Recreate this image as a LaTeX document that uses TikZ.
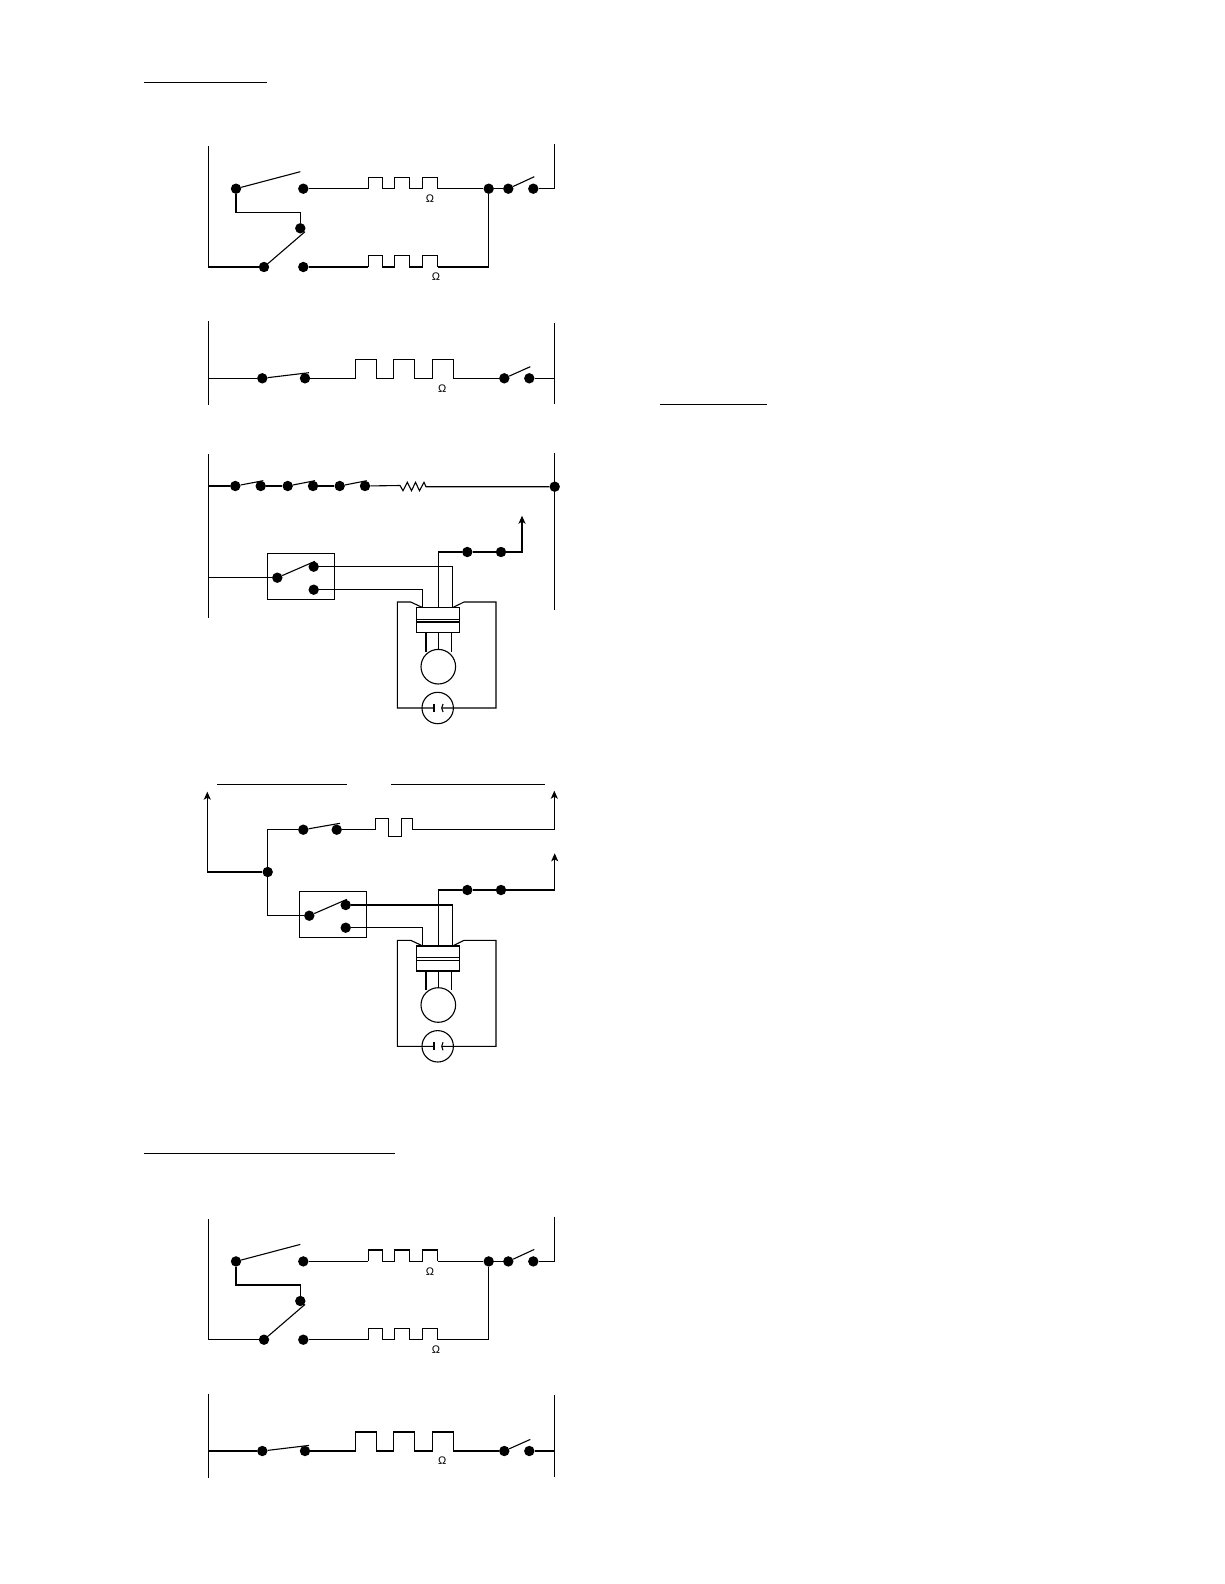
\documentclass[tikz,border=0pt]{standalone}
\usepackage{fontspec}
\setmainfont{Liberation Sans}
\usetikzlibrary{arrows.meta}
\tikzset{
  wire/.style={line width=1.1pt, line join=miter},
  term/.style={circle, fill, inner sep=0pt, minimum size=10.4pt},
  omegalabel/.style={font=\fontsize{11}{12}\selectfont, inner sep=0pt},
  tipped/.style={wire, -{Stealth[length=8pt,width=7pt,inset=2pt]}},
}
% the heater with three humps, low level at y=#1
\newcommand{\heaterlow}[1]{
\draw[wire] (368.3,#1) -- ++(0,-11.4) -| (382.3,#1) -- (394.3,#1) -- ++(0,-11.4) -| (409.7,#1) -- (422.3,#1) -- ++(0,-11.4) -| (437.7,#1);
}
\begin{document}
\begin{tikzpicture}[x=1pt,y=-1pt]
\useasboundingbox (0,0) rectangle (1224,1584);
\coordinate (headA1) at (144,82.3);
\coordinate (headA2) at (266.7,82.3);
\draw[wire] (headA1) -- (headA2);
\coordinate (headB1) at (660,404.3);
\coordinate (headB2) at (767,404.3);
\draw[wire] (headB1) -- (headB2);
\coordinate (headC1) at (144,1153.3);
\coordinate (headC2) at (395,1153.3);
\draw[wire] (headC1) -- (headC2);

% the two rung groups, drawn the same way
\foreach \oy/\id in {0/p,1072.7/q}{
\begin{scope}[shift={(0,\oy)}]
\coordinate (railL\id) at (208.3,146);
\coordinate (railLb\id) at (208.3,267);
\coordinate (railR\id) at (554.3,144);
\coordinate (railRb\id) at (554.3,188.7);
\node[term] (a\id) at (236,188.7){};
\node[term] (b\id) at (303.3,188.7){};
\node[term] (c\id) at (300.3,228.3){};
\node[term] (d\id) at (264,267){};
\node[term] (e\id) at (303.3,267){};
\node[term] (f\id) at (488.7,188.7){};
\node[term] (g\id) at (508.3,188.7){};
\node[term] (h\id) at (533.3,188.7){};
\coordinate (ab\id) at (300.3,171.7);
\coordinate (dc\id) at (305,231.7);
\coordinate (gh\id) at (534.3,176.7);
\coordinate (fb\id) at (488.7,267);
\draw[wire] (railL\id) -- (railLb\id) -- (d\id);
\draw[wire] (railR\id) -- (railRb\id) -- (h\id);
\draw[wire] (a\id) -- (ab\id);
\draw[wire] (d\id) -- (dc\id);
\draw[wire] (g\id) -- (gh\id);
\draw[wire] (a\id) |- (300.3,212.3) -- (c\id);
\draw[wire] (f\id) -- (g\id);
\draw[wire] (f\id) -- (fb\id);
\draw[wire] (b\id) -- (368.3,188.7);
\heaterlow{188.7}
\draw[wire] (437.7,188.7) -- (f\id);
\draw[wire] (e\id) -- (368.3,267);
\heaterlow{267}
\draw[wire] (437.7,267) -- (fb\id);
\node[omegalabel] (ohmA\id) at (430,198.6){Ω};
\node[omegalabel] (ohmB\id) at (436,276.6){Ω};
% second rung
\coordinate (rail2L\id) at (208.3,321);
\coordinate (rail2Lb\id) at (208.3,405);
\coordinate (rail2R\id) at (554.3,322.7);
\coordinate (rail2Rb\id) at (554.3,404);
\coordinate (rail2Lm\id) at (208.3,378.3);
\coordinate (rail2Rm\id) at (554.3,378.3);
\node[term] (i\id) at (262.3,378.3){};
\node[term] (j\id) at (305,378.3){};
\node[term] (k\id) at (504.3,378.3){};
\node[term] (l\id) at (529.3,378.3){};
\draw[wire] (rail2L\id) -- (rail2Lb\id);
\draw[wire] (rail2R\id) -- (rail2Rb\id);
\draw[wire] (rail2Lm\id) -- (i\id);
\draw[wire] (i\id) -- (309,372.7);
\draw[wire] (k\id) -- (530.3,366.7);
\draw[wire] (l\id) -- (rail2Rm\id);
\draw[wire] (j\id) -- (355.3,378.3) -- ++(0,-19) -| (376.3,378.3) -- (393.7,378.3) -- ++(0,-19) -| (414.7,378.3) -- (432.3,378.3) -- ++(0,-19) -| (453.3,378.3) -- (k\id);
\node[omegalabel] (ohmC\id) at (442.3,388.3){Ω};
\end{scope}
}

% third group
\coordinate (rail3L) at (208.3,454);
\coordinate (rail3Lb) at (208.3,618.3);
\coordinate (rail3R) at (554.3,453.3);
\coordinate (rail3Rb) at (554.3,610);
\draw[wire] (rail3L) -- (rail3Lb);
\draw[wire] (rail3R) -- (rail3Rb);
\node[term] (m1) at (235.3,486){};
\node[term] (m2) at (260.7,486){};
\node[term] (m3) at (287.7,486){};
\node[term] (m4) at (313,486){};
\node[term] (m5) at (339.7,486){};
\node[term] (m6) at (365,486){};
\node[term] (m7) at (554.7,486.7){};
\draw[wire] (208.3,486) -- (m1);
\draw[wire] (m1) -- (263.3,480.7);
\draw[wire] (m2) -- (m3);
\draw[wire] (m3) -- (315,480.7);
\draw[wire] (m4) -- (m5);
\draw[wire] (m5) -- (366.7,480.7);
\draw[wire] (m6) -- (400,485.5) -- (403,490.7) -- (407.3,482.3) -- (411.5,490.7) -- (415.5,482.3) -- (419.5,490.7) -- (424,482.3) -- (426,486.7) -- (m7);
\node[draw, wire, minimum width=67.4pt, minimum height=46pt, inner sep=0pt] (box3) at (301,576.3){};
\node[term] (n1) at (277.3,577.7){};
\node[term] (n2) at (313.7,566.7){};
\node[term] (n3) at (313.7,589.7){};
\draw[wire] (208.3,577.7) -- (n1);
\draw[wire] (n1) -- (315,561.3);
\node[term] (o1) at (467.3,552){};
\node[term] (o2) at (501,552){};
\draw[wire] (n2) -- (452.3,566.7) -- (452.3,606.7);
\draw[wire] (n3) -- (422.3,589.7) -- (422.3,606.7);
\draw[wire] (438.3,607.7) |- (o1);
\draw[wire] (o1) -- (o2);
\draw[tipped] (o2) -| (522,515.7);

% fourth group
\coordinate (top4a) at (217,784.3);
\coordinate (top4b) at (346.7,784.3);
\coordinate (top4c) at (391,784.3);
\coordinate (top4d) at (545,784.3);
\draw[wire] (top4a) -- (top4b);
\draw[wire] (top4c) -- (top4d);
\node[term] (r0) at (267.7,872){};
\node[term] (r1) at (303.3,829.7){};
\node[term] (r2) at (336.7,829.7){};
\draw[tipped] (r0) -| (207.3,791.7);
\draw[wire] (r0) |- (r1);
\draw[wire] (r1) -- (340,823.3);
\draw[tipped] (r2) -- (375.3,829.7) -- (375.3,818.3) -- (388.7,818.3) -- (388.7,836.3) -- (401.3,836.3) -- (401.3,818.3) -- (412.7,818.3) -- (412.7,829.7) -- (554.3,829.7) -- (554.3,790.7);
\node[draw, wire, minimum width=67.4pt, minimum height=46pt, inner sep=0pt] (box4) at (333,914.3){};
\node[term] (s1) at (309.3,915.7){};
\node[term] (s2) at (345.7,905){};
\node[term] (s3) at (345.7,927.7){};
\draw[wire] (r0) |- (s1);
\draw[wire] (s1) -- (347,899.3);
\node[term] (t1) at (467.3,890){};
\node[term] (t2) at (501,890){};
\draw[wire] (s2) -- (452.3,905) -- (452.3,945);
\draw[wire] (s3) -- (422.3,927.7) -- (422.3,945);
\draw[wire] (438.3,946) |- (t1);
\draw[wire] (t1) -- (t2);
\draw[tipped] (t2) -| (554.7,853.3);

% motor with its capacitor, twice
\foreach \oy/\id in {0/u,338.3/v}{
\begin{scope}[shift={(0,\oy)}]
\node[draw, wire, minimum width=42.6pt, minimum height=25pt, inner sep=0pt] (plug\id) at (438,620.2){};
\draw[wire] (plug\id.west |- 0,619.3) -- (plug\id.east |- 0,619.3);
\draw[wire] (plug\id.west |- 0,622) -- (plug\id.east |- 0,622);
\node[draw, wire, circle, minimum size=34.6pt, inner sep=0pt] (mot\id) at (438.3,666.7){};
\node[draw, wire, circle, minimum size=31.4pt, inner sep=0pt] (cap\id) at (437.7,708){};
\draw[wire] (426,632.7) -- (426,652);
\draw[wire] (438.3,632.7) -- (mot\id);
\draw[wire] (451.7,632.7) -- (451.7,652);
\draw[wire] (422,607.3) -- (410.7,602) -- (397.3,602) -- (397.3,708) -- (434,708);
\draw[wire] (434,704) -- (434,712);
\draw[wire] (453.3,607.3) -- (464,602) -- (496,602) -- (496,708) -- (442,708);
\draw[wire] (443,704) .. controls (441.3,706.5) and (441.3,709.5) .. (443,712);
\end{scope}
}
\end{tikzpicture}
\end{document}
